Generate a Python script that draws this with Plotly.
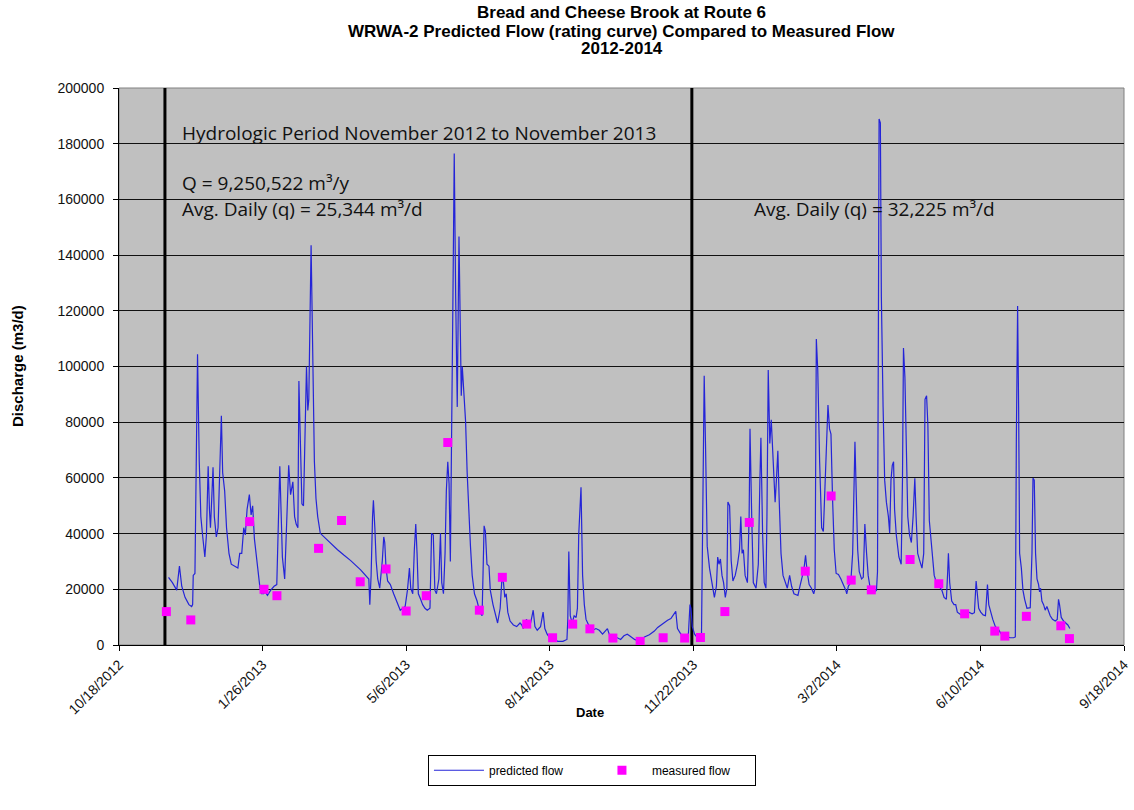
import plotly.graph_objects as go
import pandas as pd

START = pd.Timestamp("2012-10-18")

# predicted flow: day offset since 10/18/2012 and discharge (m3/d)
pred_day = [34.5, 37.2, 40.2, 42.1, 43.7, 46.0, 48.7, 50.6, 51.3, 51.7, 52.9, 54.7, 55.9, 57.0, 58.2, 59.8,
            60.9, 62.1, 63.0, 63.7, 64.6, 65.5, 66.4, 67.8, 69.0, 70.3, 71.3, 72.2, 73.6, 74.9, 76.6, 78.2,
            80.5, 82.8, 84.1, 85.5, 86.9, 88.0, 89.2, 90.8, 92.0, 93.1, 94.3, 95.9, 97.0, 98.2, 99.3, 100.7,
            101.8, 103.4, 105.7, 108.0, 109.9, 112.0, 113.8, 115.4,
            118.2, 119.5, 121.1, 122.3, 123.4, 124.6, 125.3, 126.2, 127.4, 128.5, 129.7, 130.6, 131.5, 132.2,
            133.8, 134.9, 136.1, 137.2, 138.4, 140.2, 145.3, 152.2, 156.8, 161.4, 168.3, 172.9, 174.0, 174.7,
            175.6, 176.6, 177.2, 178.2, 179.1, 180.2, 181.6, 183.4, 184.4, 185.1, 186.0, 187.1, 189.0, 191.3,
            193.6, 195.9, 197.7, 199.3, 200.9, 202.3, 203.2, 204.6, 205.7, 206.7, 207.6, 208.5, 210.1, 211.5,
            213.1, 214.7, 216.6, 217.7, 218.9, 220.0, 221.1, 222.8, 223.9, 224.8, 226.0, 227.1, 228.0, 229.0,
            229.9, 230.8, 232.6, 233.5, 234.5, 235.6, 236.8, 237.5, 238.4, 239.1, 240.2, 241.4, 242.5, 243.7,
            244.8, 246.0, 247.6, 249.4, 251.3, 252.9, 253.6, 254.3, 255.2, 256.3, 257.7, 258.6, 260.5, 262.1,
            263.7, 265.5, 266.7, 267.8, 268.7, 269.7, 270.8, 272.4, 274.7, 277.0, 279.3, 280.5, 281.6, 282.8,
            283.9, 285.1, 286.7, 288.5, 289.7, 291.3, 293.6, 295.4, 296.6, 298.2, 300.0, 302.3, 305.7, 309.2,
            312.0, 312.6, 313.3, 314.3, 315.6, 317.0, 318.4, 319.3, 320.2, 321.8, 322.9, 324.1, 325.3, 327.6,
            329.9, 332.2, 334.5, 336.8, 339.1, 340.2, 341.8, 343.7, 347.1, 349.4, 351.7, 354.0,
            355.6, 359.1, 362.5, 366.0, 369.4, 372.9, 375.2, 377.5, 379.8, 382.1, 384.4, 386.7, 387.8, 389.0,
            391.3, 394.0, 396.6, 397.7, 398.4, 399.3, 400.9, 402.8, 404.6, 405.7, 406.7, 407.6, 408.5, 409.7,
            411.3, 413.1, 414.7, 416.1, 417.0, 417.9, 418.9, 420.0, 421.1, 422.3, 423.4, 424.1, 425.3, 426.4,
            427.6, 429.2, 430.8, 432.2, 433.1, 434.0, 434.9, 436.1, 437.7, 438.9, 439.5, 440.7, 441.8, 443.7,
            445.3, 446.4, 447.1, 448.3, 449.4, 450.6, 451.3, 452.2, 453.3, 454.3, 456.1, 457.0, 457.9, 458.9,
            459.8, 461.1, 462.5, 464.1, 465.5, 467.1, 468.5, 470.1, 471.3, 472.9, 474.3, 475.9, 477.0, 478.2,
            479.3, 480.7, 482.3, 483.9, 484.8, 485.7, 486.7, 488.0, 489.4, 490.6, 491.7, 492.6, 493.8, 494.9,
            495.9, 497.0, 498.2, 499.5, 501.1, 502.8, 504.6, 506.2, 506.9, 508.0, 509.7, 511.0, 512.6, 513.6,
            514.5, 515.6, 517.2, 518.4, 519.5, 520.7, 521.8, 523.0, 524.8, 526.4, 527.6, 528.3, 529.0, 529.4,
            530.3, 531.0, 532.2, 533.3, 534.5, 535.9, 536.8, 537.7, 538.6, 539.5, 540.2, 541.4, 543.2, 544.8,
            545.7, 546.4, 547.4, 548.3, 549.4, 550.6, 551.9, 553.1, 554.3, 555.2, 556.3, 557.7, 559.3, 560.5,
            561.4, 562.5, 563.4, 564.4, 566.2, 567.8, 569.4, 571.3, 573.1, 574.7, 576.3, 577.2, 577.7, 578.6,
            580.0, 581.6, 582.8, 583.9, 585.5, 587.4, 589.6, 591.9, 594.2, 595.8, 597.0, 597.9, 598.8, 600.2,
            601.9, 603.5, 604.9, 605.8, 607.2, 608.6, 610.4, 612.3, 613.7, 615.0, 616.2, 618.5, 620.8, 623.1,
            624.3, 625.0, 625.9, 626.6, 627.3, 628.5, 629.6, 630.8, 632.4, 634.7, 635.9, 636.6, 637.5, 638.4,
            639.4, 640.5, 641.2, 641.9, 642.8, 644.0, 645.1, 646.3, 647.5, 648.6, 650.2, 652.1, 653.5, 654.4,
            655.1, 656.3, 657.9, 659.5, 660.9, 662.3]
pred_flow = [24300, 22400, 19700, 28300, 21100, 17100, 14500, 13800, 14500, 25000, 25700, 104400, 65800, 46100, 39500, 31600,
             39500, 64200, 48700, 42100, 52600, 63800, 46100, 38800, 42100, 65800, 82300, 61900, 55300, 42100, 32900, 29000,
             28300, 27600, 32900, 32900, 42100, 39500, 48700, 54000, 46700, 50000, 38200, 31600, 25000, 20400, 18400, 18400,
             19100, 17800, 19700, 21100, 21700, 64200, 31600, 23700,
             64500, 54000, 58600, 46100, 43400, 42100, 94800, 77600, 50700, 50000, 81600, 100000, 84200, 88200,
             143500, 111900, 65800, 52600, 46100, 40100, 37500, 34200, 32200, 30300, 27000, 24300, 23700, 14500,
             25000, 46100, 52000, 42100, 30300, 23700, 20400, 30300, 38800, 36800, 27600, 23000, 21700, 18400,
             15100, 12500, 13200, 13800, 19700, 27600, 20400, 18400, 34200, 43400, 32900, 18400, 16400, 14500,
             13200, 12500, 13200, 40100, 39500, 19700, 18400, 23700, 40100, 22400, 18400, 32900, 55300, 65800,
             57900, 30000, 125000, 176500, 125000, 85500, 146700, 111900, 89500, 100000, 89500, 80300, 61900, 46100,
             35500, 25000, 18400, 15800, 11800, 10500, 32900, 42800, 40800, 29000, 28300, 19700, 14500, 11200,
             7900, 13200, 23700, 22400, 17100, 18400, 11800, 8600, 7200, 6600, 7900, 7200, 5900, 8200,
             9200, 6600, 7900, 12500, 6600, 5300, 6600, 11800, 5900, 3900, 2600, 2000, 1300, 1300,
             2000, 9200, 33600, 10500, 7900, 10500, 9900, 13200, 39500, 56600, 25000, 14500, 9200, 6600,
             5300, 5900, 5300, 3900, 5300, 5900, 3300, 2600, 2600, 2000, 3300, 3900,
             3300, 2000, 1300, 2900, 3700, 5000, 6300, 7200, 7900, 8900, 9500, 11200, 12100, 5900,
             3900, 3300, 3900, 14500, 13200, 6600, 3900, 2600, 3300, 2600, 46100, 96700, 72400, 35500,
             27600, 22400, 17100, 21100, 31600, 29000, 30900, 25000, 22400, 17100, 20400, 51300, 50000, 30300,
             23000, 25000, 29000, 34200, 46100, 32900, 34200, 25000, 22400, 46100, 77600, 46100, 22400, 20400,
             29000, 59200, 74400, 39500, 22400, 20400, 46100, 98700, 72400, 80900, 59200, 51300, 59200, 69700,
             52600, 32900, 25000, 22400, 20400, 25000, 21100, 18400, 18200, 17800, 21100, 25000, 27000, 32200,
             26300, 21700, 20400, 18400, 20400, 109900, 98700, 65800, 42100, 40800, 59200, 67100, 86200, 77600,
             75700, 52600, 34200, 25700, 25300, 23700, 21700, 19700, 18400, 21100, 22400, 32900, 73000, 46100,
             34200, 26300, 23700, 24300, 43400, 32900, 25000, 21100, 20000, 19100, 19700, 26300, 125000, 188900,
             187500, 125000, 85500, 59200, 51300, 46100, 40100, 59200, 64500, 65800, 48700, 39500, 31600, 29000,
             59200, 106600, 96100, 72400, 46100, 39500, 36800, 46100, 59900, 46100, 32900, 30300, 27600, 32900,
             88200, 89500, 79000, 44700, 32900, 25000, 22400, 21100, 19700, 17100, 16400, 26300, 32900, 22400,
             15800, 14500, 14500, 11800, 11200, 10500, 11200, 11800, 11200, 11600, 23000, 17100, 13200, 11800,
             10800, 10500, 21700, 14500, 11600, 9200, 6600, 5900, 4600, 3300, 2600, 2900, 2600, 2600,
             2900, 72400, 121700, 85500, 32900, 27600, 19700, 16400, 13200, 13400, 32900, 59900, 59200, 32900,
             23700, 21700, 19100, 20400, 15800, 14500, 12500, 13800, 11800, 10500, 9200, 8600, 9200, 16400,
             14500, 9900, 8600, 7900, 7200, 5900]

# measured flow
meas_date = ["2012-11-20", "2012-12-07", "2013-01-17", "2013-01-27", "2013-02-05", "2013-03-06", "2013-03-22",
             "2013-04-04", "2013-04-22", "2013-05-06", "2013-05-20", "2013-06-04", "2013-06-26", "2013-07-12",
             "2013-07-29", "2013-08-16", "2013-08-30", "2013-09-11", "2013-09-27", "2013-10-16", "2013-11-01",
             "2013-11-16", "2013-11-27", "2013-12-14", "2013-12-31", "2014-02-08", "2014-02-26", "2014-03-12",
             "2014-03-26", "2014-04-22", "2014-05-12", "2014-05-30", "2014-06-20", "2014-06-27", "2014-07-12",
             "2014-08-05", "2014-08-11"]
meas_flow = [12000, 9000, 44300, 20000, 17700, 34700, 44700, 22700, 27300, 12200, 17700, 72700, 12500, 24300,
             7500, 2600, 7500, 5800, 2500, 1300, 2600, 2500, 2700, 12000, 44000, 26500, 53500, 23300,
             19800, 30700, 22000, 11200, 5000, 3200, 10300, 6900, 2300]

# hydrologic period boundaries
period_bounds = ["2012-11-19", "2013-11-21"]

tick_dates = ["2012-10-18", "2013-01-26", "2013-05-06", "2013-08-14", "2013-11-22", "2014-03-02", "2014-06-10", "2014-09-18"]
tick_labels = ["10/18/2012", "1/26/2013", "5/6/2013", "8/14/2013", "11/22/2013", "3/2/2014", "6/10/2014", "9/18/2014"]

title_lines = ["Bread and Cheese Brook at Route 6",
               "WRWA-2 Predicted Flow (rating curve) Compared to Measured Flow",
               "2012-2014"]

pred_dates = [START + pd.Timedelta(days=d) for d in pred_day]

AR = "Liberation Sans, Arial, sans-serif"
fig = go.Figure()

for b in period_bounds:
    fig.add_trace(go.Scatter(x=[b, b], y=[0, 200000], mode="lines",
                             line=dict(color="black", width=3), showlegend=False, hoverinfo="skip"))

fig.add_trace(go.Scatter(x=pred_dates, y=pred_flow, mode="lines", name="predicted flow",
                         line=dict(color="#2424D8", width=1.2)))
fig.add_trace(go.Scatter(x=meas_date, y=meas_flow, mode="markers", name="measured flow",
                         marker=dict(symbol="square", color="#FF00FF", size=9, line=dict(width=0))))

fig.update_layout(
    width=1134, height=810,
    margin=dict(l=119, r=10, t=88, b=165, autoexpand=False),
    paper_bgcolor="white", plot_bgcolor="#C0C0C0",
    font=dict(family=AR, size=12, color="black"),
    xaxis=dict(type="date", range=[tick_dates[0], tick_dates[-1]], tickmode="array",
               tickvals=tick_dates, ticktext=tick_labels, tickangle=-45, automargin=False,
               showgrid=False, zeroline=False, showline=True, linecolor="black", linewidth=1,
               ticks="outside", ticklen=5, tickcolor="black", tickfont=dict(family=AR, size=14, color="#111")),
    yaxis=dict(range=[0, 200000], dtick=20000, tickformat="d", showgrid=True, gridcolor="#111", gridwidth=1,
               zeroline=False, showline=True, linecolor="black", linewidth=1, automargin=False,
               ticks="outside", ticklen=5, ticklabelstandoff=6, tickcolor="black",
               tickfont=dict(family=AR, size=14, color="#111")),
    legend=dict(orientation="h", x=0.4706, xanchor="center", y=-0.197, yanchor="top",
                bgcolor="white", bordercolor="black", borderwidth=1, font=dict(family=AR, size=12),
                entrywidth=98, itemwidth=50),
    shapes=[dict(type="rect", xref="paper", yref="paper", x0=0, y0=0, x1=1, y1=1,
                 line=dict(color="#808080", width=1), layer="below")],
)

# chart title, one annotation per line
for txt, yy in zip(title_lines, [1.1347, 1.1023, 1.0718]):
    fig.add_annotation(text="<b>" + txt + "</b>", x=0.5, y=yy, xref="paper", yref="paper",
                       xanchor="center", yanchor="middle", showarrow=False,
                       font=dict(family=AR, size=17, color="black"))

TXT = "Open Sans, Lato, sans-serif"
ann = [
    dict(text="Hydrologic Period November 2012 to November 2013", x=0.0607, y=0.919),
    dict(text="Q = 9,250,522 m³/y", x=0.0607, y=0.829),
    dict(text="Avg. Daily (q) = 25,344 m³/d", x=0.0607, y=0.783),
    dict(text="Avg. Daily (q) = 32,225 m³/d", x=0.630, y=0.783),
]
for a in ann:
    fig.add_annotation(text=a["text"], x=a["x"], y=a["y"], xref="paper", yref="paper",
                       xanchor="left", yanchor="middle", showarrow=False,
                       font=dict(family=TXT, size=19, color="#111"))

fig.add_annotation(text="<b>Date</b>", x=0.4687, y=-0.1203, xref="paper", yref="paper",
                   showarrow=False, font=dict(family=AR, size=13), xanchor="center", yanchor="middle")
fig.add_annotation(text="<b>Discharge (m3/d)</b>", x=-0.1005, y=0.5009, xref="paper", yref="paper",
                   showarrow=False, textangle=-90, font=dict(family=AR, size=15), xanchor="center", yanchor="middle")

fig.write_html("out.html")
